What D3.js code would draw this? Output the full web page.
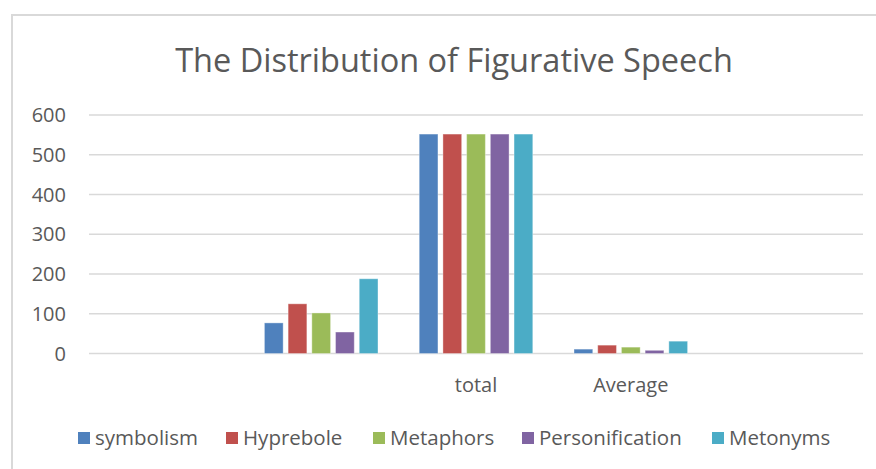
<!DOCTYPE html>
<html>
<head>
<meta charset="utf-8">
<script src="https://cdn.jsdelivr.net/npm/d3@7"></script>
<style>
  body { margin: 0; background: #fff; }
  text { font-family: "Open Sans", "DejaVu Sans", sans-serif; fill: #595959; }
</style>
</head>
<body>
<div id="chart"></div>
<script>
// chart data
const categories = ["", "", "total", "Average", ""];
const seriesNames = ["symbolism", "Hyprebole", "Metaphors", "Personification", "Metonyms"];
const symbolism = [null, 77, 552, 11, null];
const hyprebole = [null, 125, 552, 21, null];
const metaphors = [null, 102, 552, 16, null];
const personification = [null, 54, 552, 8, null];
const metonyms = [null, 188, 552, 31, null];
const yTicks = [0, 100, 200, 300, 400, 500, 600];
const colors = ["#4F81BD", "#C0504D", "#9BBB59", "#8064A2", "#4BACC6"];

const seriesValues = [symbolism, hyprebole, metaphors, personification, metonyms];

const width = 876, height = 469;
const margin = {top: 115, left: 89, right: 13, bottom: 115.5};

const svg = d3.select("#chart")
  .append("svg")
  .attr("width", width)
  .attr("height", height);

// chart area border (only top and left show in the crop)
svg.append("path")
  .attr("d", "M12,476 L12,15 L880,15")
  .attr("fill", "none")
  .attr("stroke", "#d9d9d9")
  .attr("stroke-width", 2);

// title
svg.append("text")
  .attr("x", 454)
  .attr("y", 72)
  .attr("text-anchor", "middle")
  .style("font-size", "32.5px")
  .text("The Distribution of Figurative Speech");

const x0 = d3.scaleBand()
  .domain(d3.range(categories.length))
  .range([margin.left, width - margin.right])
  .padding(0);

const x1 = d3.scaleBand()
  .domain(seriesNames)
  .range([0, x0.bandwidth()])
  .paddingInner(0.21)
  .paddingOuter(0.87);

const y = d3.scaleLinear()
  .domain([0, 600])
  .range([height - margin.bottom, margin.top]);

// gridlines
svg.append("g")
  .selectAll("line")
  .data(yTicks)
  .enter()
  .append("line")
  .attr("x1", margin.left)
  .attr("x2", width - margin.right)
  .attr("y1", d => y(d))
  .attr("y2", d => y(d))
  .attr("stroke", "#d9d9d9")
  .attr("stroke-width", 1.5);

// y labels
svg.append("g")
  .selectAll("text")
  .data(yTicks)
  .enter()
  .append("text")
  .attr("x", 66)
  .attr("y", d => y(d))
  .attr("dy", "0.35em")
  .attr("text-anchor", "end")
  .style("font-size", "20px")
  .text(d => d);

// bars
const rows = [];
seriesNames.forEach(function (name, s) {
  seriesValues[s].forEach(function (v, c) {
    if (v != null) rows.push({name: name, cat: c, value: v, color: colors[s]});
  });
});

svg.append("g")
  .selectAll("rect")
  .data(rows)
  .enter()
  .append("rect")
  .attr("x", d => x0(d.cat) + x1(d.name))
  .attr("y", d => y(d.value))
  .attr("width", x1.bandwidth())
  .attr("height", d => y(0) - y(d.value))
  .attr("fill", d => d.color)
  .attr("stroke", "rgba(255,255,255,0.35)")
  .attr("stroke-width", 1);

// category labels
svg.append("g")
  .selectAll("text")
  .data(categories)
  .enter()
  .append("text")
  .attr("x", (d, i) => x0(i) + x0.bandwidth() / 2)
  .attr("y", 392)
  .attr("text-anchor", "middle")
  .style("font-size", "20px")
  .text(d => d);

// legend
const legendX = [78, 226, 373, 522, 712];
const legend = svg.append("g");
seriesNames.forEach(function (name, i) {
  legend.append("rect")
    .attr("x", legendX[i])
    .attr("y", 432)
    .attr("width", 12)
    .attr("height", 12)
    .attr("fill", colors[i]);
  legend.append("text")
    .attr("x", legendX[i] + 17)
    .attr("y", 445)
    .style("font-size", "20.5px")
    .text(name);
});
</script>
</body>
</html>
